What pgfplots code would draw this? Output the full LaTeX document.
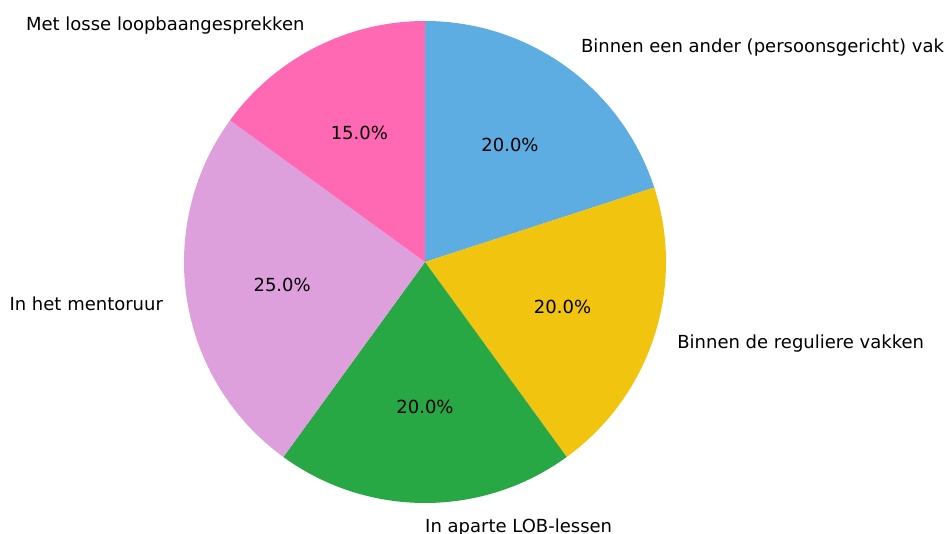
\documentclass[border=0pt]{standalone}
\usepackage{pgfplots}
\pgfplotsset{compat=1.18}
\usepackage{pgfplotstable}
\usepackage{fontspec}
\setmainfont{DejaVu Sans}

\definecolor{cblue}{HTML}{5DADE2}
\definecolor{cyellow}{HTML}{F1C40F}
\definecolor{cgreen}{HTML}{28A745}
\definecolor{cplum}{HTML}{DDA0DD}
\definecolor{cpink}{HTML}{FF69B4}

% share per answer, clockwise from the top
\pgfplotstableread[col sep=comma]{
label,value,col
Binnen een ander (persoonsgericht) vak,20.0,cblue
Binnen de reguliere vakken,20.0,cyellow
In aparte LOB-lessen,20.0,cgreen
In het mentoruur,25.0,cplum
Met losse loopbaangesprekken,15.0,cpink
}\piedata

\begin{document}
\begin{tikzpicture}
\begin{axis}[
    hide axis,
    scale only axis,
    width=947pt, height=534pt,
    xmin=0, xmax=947, ymin=0, ymax=534,
    clip=false
]
\def\cx{425}\def\cy{272}\def\R{241}
\def\cum{0}
\pgfplotsforeachungrouped \i in {0,...,4}{
    \pgfplotstablegetelem{\i}{value}\of\piedata \let\v=\pgfplotsretval
    \pgfplotstablegetelem{\i}{col}\of\piedata \let\c=\pgfplotsretval
    \pgfplotstablegetelem{\i}{label}\of\piedata \let\l=\pgfplotsretval
    \pgfmathsetmacro\sa{90-3.6*\cum}
    \pgfmathsetmacro\ea{90-3.6*(\cum+\v)}
    \pgfmathsetmacro\ma{(\sa+\ea)/2}
    \pgfmathsetmacro\lx{\cx+1.1*\R*cos(\ma)}
    \pgfmathsetmacro\ly{\cy+1.1*\R*sin(\ma)}
    \pgfmathsetmacro\px{\cx+0.6*\R*cos(\ma)}
    \pgfmathsetmacro\py{\cy+0.6*\R*sin(\ma)}
    \ifdim\lx pt<\cx pt \def\anc{east}\else\def\anc{west}\fi
    \edef\temp{%
      \noexpand\fill[\c] (axis cs:\cx,\cy) -- ++(\sa:\R pt)
         arc[start angle=\sa, end angle=\ea, radius=\R pt] -- cycle;
      \noexpand\node[anchor=\anc, inner sep=0pt, font=\noexpand\fontsize{18}{21}\noexpand\selectfont]
         at (axis cs:\lx,\ly) {\l};
      \noexpand\node[inner sep=0pt, font=\noexpand\fontsize{18}{21}\noexpand\selectfont]
         at (axis cs:\px,\py) {\noexpand\pgfmathprintnumber[fixed,fixed zerofill,precision=1,assume math mode=true]{\v}\noexpand\%};
    }
    \temp
    \pgfmathsetmacro\cum{\cum+\v}
}
\end{axis}
\pgfresetboundingbox
\useasboundingbox (current axis.south west) rectangle (current axis.north east);
\end{tikzpicture}
\end{document}
